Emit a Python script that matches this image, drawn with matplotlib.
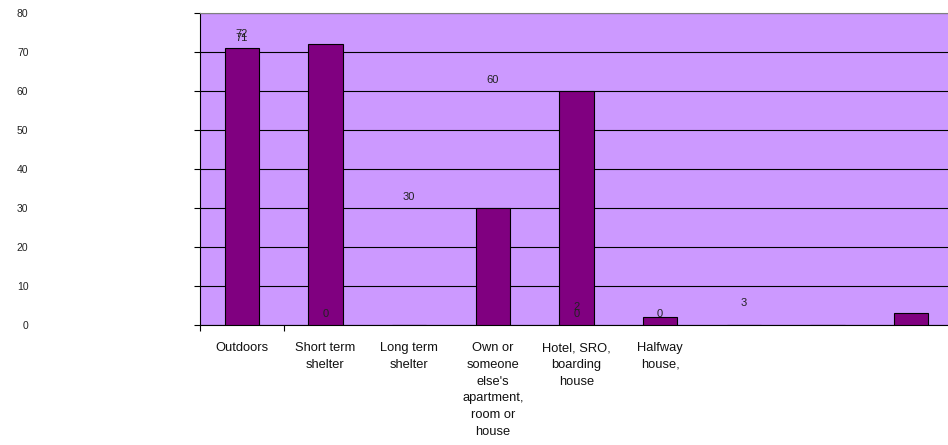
import matplotlib.pyplot as plt

plt.rcParams['font.family'] = ['Liberation Sans', 'DejaVu Sans']

# one bar per slot, nine slots
values = [71, 72, 0, 30, 60, 2, 0, 0, 3]
categories = ['Outdoors', 'Short term\nshelter', 'Long term\nshelter',
              "Own or\nsomeone\nelse's\napartment,\nroom or\nhouse",
              'Hotel, SRO,\nboarding\nhouse', 'Halfway\nhouse,']
# data labels as they sit in the original (shifted one slot)
label_slots = [0, 0, 1, 2, 3, 4, 4, 5, 6]
label_texts = ['72', '71', '0', '30', '60', '2', '0', '0', '3']
label_vals = [72, 71, 0, 30, 60, 2, 0, 0, 3]
yticks = [0, 10, 20, 30, 40, 50, 60, 70, 80]

fig = plt.figure(figsize=(9.48, 4.45), dpi=100)
# plot area runs a little past the right edge of the picture
ax = fig.add_axes([200 / 948, 120 / 445, 753 / 948, 312 / 445])
ax.set_facecolor('#CC99FF')

x = list(range(len(values)))
ax.bar(x, values, width=0.41, color='#800080', edgecolor='black', linewidth=0.8, zorder=3)

ax.set_xlim(-0.5, 8.5)
ax.set_ylim(0, 80)
ax.set_yticks(yticks)
ax.yaxis.grid(True, color='black', linewidth=0.8, zorder=1)
ax.tick_params(axis='y', length=4.5, pad=119, labelsize=7.5, colors='black')
for t in ax.get_yticklabels():
    t.set_horizontalalignment('right')
    t.set_color('#222222')

ax.set_xticks([-0.5, 0.5])
ax.set_xticklabels(['', ''])
ax.tick_params(axis='x', length=4.5, direction='out')

for i, c in enumerate(categories):
    ax.text(i, -4.4, c, ha='center', va='top', fontsize=9.3, linespacing=1.52, color='#111111')

for s, t, v in zip(label_slots, label_texts, label_vals):
    ax.annotate(t, (s, v), xytext=(0, 4), textcoords='offset points',
                ha='center', va='bottom', fontsize=8, color='#222222', zorder=4)

ax.spines['top'].set_color('#808080')
ax.spines['right'].set_visible(False)
ax.spines['left'].set_color('black')
ax.spines['bottom'].set_color('black')

fig.savefig('out.png', dpi=100)
